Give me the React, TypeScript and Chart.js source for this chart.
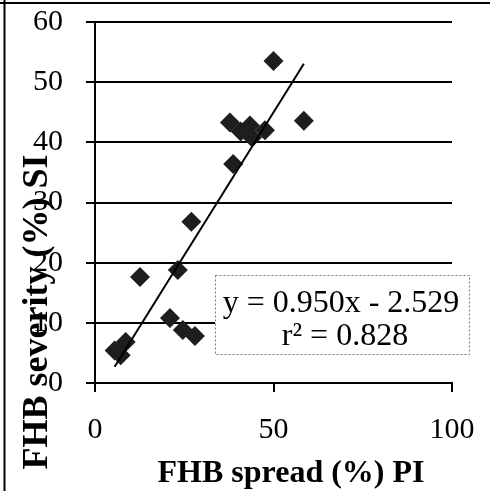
import React, { useEffect, useRef } from "react";
import { Chart, registerables } from "chart.js";

Chart.register(...registerables);

// FHB spread (%) PI
const spreadPI: number[] = [5.5, 7.2, 8.6, 12.6, 21.0, 23.2, 24.6, 27.0, 28.0, 37.8, 38.7, 40.8, 43.4, 44.0, 47.6, 50.0, 58.5];
// FHB severity (%) SI
const severitySI: number[] = [5.4, 4.6, 6.8, 17.6, 10.8, 18.8, 8.8, 26.8, 7.8, 43.3, 36.4, 41.8, 42.8, 40.8, 42.0, 53.5, 43.6];

const SLOPE = 0.95;
const INTERCEPT = -2.529;
const FIT_X_RANGE: number[] = [5.5, 58.5];

const X_TICKS: number[] = [0, 50, 100];
const Y_TICKS: number[] = [0, 10, 20, 30, 40, 50, 60];

const X_TITLE = "FHB spread (%) PI";
const Y_TITLE = "FHB severity (%) SI";
const EQ_LINE1 = "y = 0.950x - 2.529";
const EQ_LINE2 = "r\u00B2 = 0.828";

const SERIF = "'Liberation Serif', 'Times New Roman', serif";

const decorPlugin = {
  id: "decor",
  afterDraw(chart: any) {
    const ctx = chart.ctx as CanvasRenderingContext2D;
    ctx.save();
    // frame lines (top and left)
    ctx.strokeStyle = "#000";
    ctx.lineWidth = 2;
    ctx.beginPath();
    ctx.moveTo(0, 3);
    ctx.lineTo(490, 3);
    ctx.moveTo(4.5, 0);
    ctx.lineTo(4.5, 491);
    ctx.stroke();

    // equation box
    ctx.fillStyle = "#fff";
    ctx.fillRect(215, 275, 255, 80);
    ctx.setLineDash([2, 2]);
    ctx.lineWidth = 1;
    ctx.strokeStyle = "#777";
    ctx.strokeRect(215.5, 275.5, 254, 79);
    ctx.setLineDash([]);
    ctx.fillStyle = "#000";
    ctx.font = `32px ${SERIF}`;
    ctx.textAlign = "center";
    ctx.textBaseline = "alphabetic";
    ctx.fillText(EQ_LINE1, 341, 312);
    ctx.fillText(EQ_LINE2, 345, 345);

    // x title
    ctx.font = `bold 32px ${SERIF}`;
    ctx.textAlign = "center";
    ctx.fillText(X_TITLE, 291, 482);

    // y title (rotated)
    ctx.translate(47, 312);
    ctx.rotate(-Math.PI / 2);
    ctx.font = `bold 36px ${SERIF}`;
    ctx.textAlign = "center";
    ctx.fillText(Y_TITLE, 0, 0);
    ctx.restore();
  },
};

export default function App() {
  const ref = useRef<HTMLCanvasElement | null>(null);
  useEffect(() => {
    if (!ref.current) return;
    const points = spreadPI.map((x, i) => ({ x, y: severitySI[i] }));
    const fit = FIT_X_RANGE.map((x) => ({ x, y: SLOPE * x + INTERCEPT }));
    const chart = new Chart(ref.current, {
      type: "scatter",
      data: {
        datasets: [
          {
            type: "line",
            data: fit,
            borderColor: "#000",
            borderWidth: 2,
            pointRadius: 0,
            fill: false,
            order: 1,
          } as any,
          {
            data: points,
            pointStyle: "rectRot",
            pointRadius: 10,
            backgroundColor: "#1e1e1e",
            borderColor: "#1e1e1e",
            borderWidth: 0,
            order: 2,
          },
        ],
      },
      options: {
        responsive: false,
        animation: false,
        events: [],
        layout: { padding: { top: 22, right: 38, left: 0, bottom: 0 } },
        plugins: {
          legend: { display: false },
          tooltip: { enabled: false },
          title: { display: false },
        },
        scales: {
          x: {
            type: "linear",
            min: 0,
            max: 100,
            afterBuildTicks: (s: any) => {
              s.ticks = X_TICKS.map((v) => ({ value: v }));
            },
            ticks: {
              color: "#000",
              font: { family: SERIF, size: 30 },
              padding: 20,
              maxRotation: 0,
            },
            grid: {
              display: true,
              drawOnChartArea: false,
              drawTicks: true,
              tickLength: 9,
              color: "#000",
              lineWidth: 2,
            },
            border: { display: true, color: "#000", width: 2 },
            afterFit: (s: any) => {
              s.height = 108;
              s.paddingLeft = 0;
              s.paddingRight = 0;
            },
          },
          y: {
            type: "linear",
            min: 0,
            max: 60,
            afterBuildTicks: (s: any) => {
              s.ticks = Y_TICKS.map((v) => ({ value: v }));
            },
            ticks: {
              color: "#000",
              font: { family: SERIF, size: 30 },
              padding: 23,
            },
            grid: {
              display: true,
              drawTicks: true,
              tickLength: 9,
              color: "#000",
              lineWidth: 2,
            },
            border: { display: true, color: "#000", width: 2 },
            afterFit: (s: any) => {
              s.width = 95;
              s.paddingTop = 0;
              s.paddingBottom = 0;
            },
          },
        },
      },
      plugins: [decorPlugin],
    });
    return () => chart.destroy();
  }, []);
  return (
    <div style={{ position: "fixed", left: 0, top: 0, width: 490, height: 491, background: "#fff" }}>
      <canvas ref={ref} width={490} height={491} style={{ width: 490, height: 491, display: "block" }} />
    </div>
  );
}
